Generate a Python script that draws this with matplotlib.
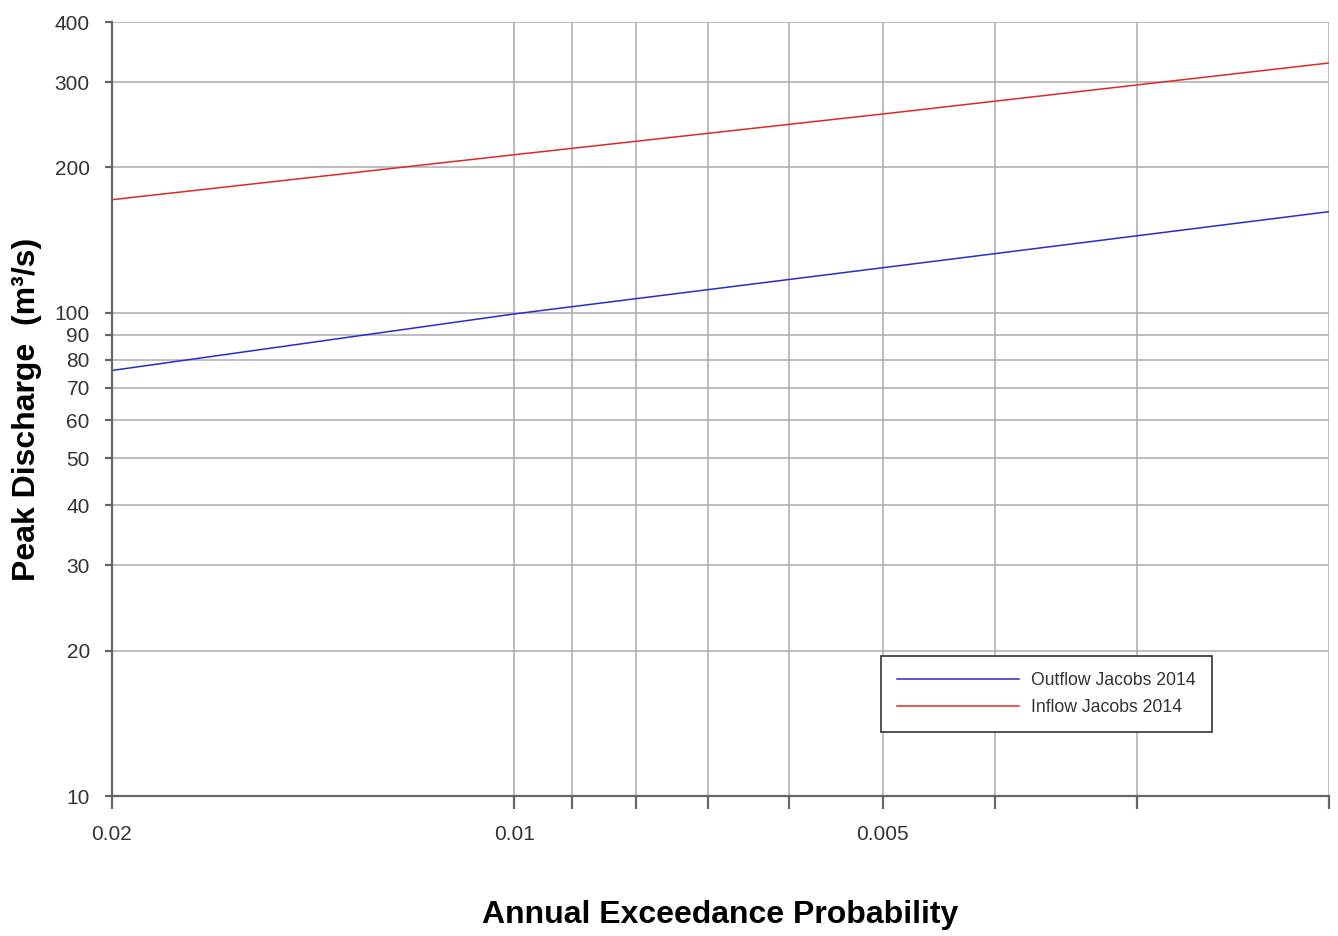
import numpy as np
import matplotlib
matplotlib.use("Agg")
import matplotlib.pyplot as plt
from matplotlib.ticker import FixedLocator, FixedFormatter, NullLocator
from statistics import NormalDist

plt.rcParams['font.family'] = ['Liberation Sans', 'DejaVu Sans']

# ---- data ----
aep = [0.02, 0.01, 0.005, 0.002]
outflow = [76.0, 99.5, 124.0, 162.0]
inflow = [171.5, 212.5, 258.0, 329.0]
series_labels = ["Outflow Jacobs 2014", "Inflow Jacobs 2014"]

x_ticks = [0.02, 0.01, 0.009, 0.008, 0.007, 0.006, 0.005, 0.004, 0.003, 0.002]
x_tick_labels = ["0.02", "0.01", "", "", "", "", "0.005", "", "", ""]
y_ticks = [10, 20, 30, 40, 50, 60, 70, 80, 90, 100, 200, 300, 400]
y_tick_labels = [str(v) for v in y_ticks]

# ---- normal probability scale (increasing in p; axis inverted later) ----
_nd = NormalDist()

def _fwd_scalar(p):
    p = min(max(float(p), 1e-9), 1 - 1e-9)
    return _nd.inv_cdf(p)

def _inv_scalar(z):
    return _nd.cdf(float(z))

_fwd = np.vectorize(_fwd_scalar, otypes=[float])
_inv = np.vectorize(_inv_scalar, otypes=[float])

def forward(p):
    return _fwd(np.asarray(p, dtype=float))

def inverse(z):
    return _inv(np.asarray(z, dtype=float))

fig = plt.figure(figsize=(13.38, 9.36), dpi=100)
ax = fig.add_axes([112/1338, 1 - 796/936, (1329-112)/1338, (796-22)/936])

ax.set_xscale('function', functions=(forward, inverse))
ax.set_yscale('log')

ax.plot(aep, outflow, color='#2a2ad0', lw=1.1, label=series_labels[0])
ax.plot(aep, inflow, color='#e02828', lw=1.1, label=series_labels[1])

ax.set_xlim(0.002, 0.02)
ax.invert_xaxis()
ax.set_ylim(10, 400)

ax.xaxis.set_major_locator(FixedLocator(x_ticks))
ax.xaxis.set_major_formatter(FixedFormatter(x_tick_labels))
ax.xaxis.set_minor_locator(NullLocator())
ax.yaxis.set_major_locator(FixedLocator(y_ticks))
ax.yaxis.set_major_formatter(FixedFormatter(y_tick_labels))
ax.yaxis.set_minor_locator(NullLocator())

ax.grid(True, which='major', color='#ababab', lw=1.1)
ax.set_axisbelow(True)

for s in ['top', 'right']:
    ax.spines[s].set_visible(False)
for s in ['left', 'bottom']:
    ax.spines[s].set_color('#666666')
    ax.spines[s].set_linewidth(1.6)

ax.tick_params(axis='x', direction='out', length=9, width=1.6, color='#666666',
               pad=12, labelsize=15, labelcolor='#333333')
ax.tick_params(axis='y', direction='out', length=5, width=1.6, color='#666666',
               pad=11, labelsize=15, labelcolor='#333333')

ax.set_xlabel("Annual Exceedance Probability", fontsize=23, fontweight='bold')
ax.xaxis.set_label_coords(0.5, (796 - 915) / 774, transform=ax.transAxes)
ax.xaxis.label.set_va('center')
ax.set_ylabel("Peak Discharge  (m³/s)", fontsize=23, fontweight='bold')
ax.yaxis.set_label_coords((27 - 112) / 1217, 0.5, transform=ax.transAxes)
ax.yaxis.label.set_va('center')

leg = ax.legend(loc='upper left', bbox_to_anchor=((881 - 112) / 1217, (796 - 656) / 774),
                fontsize=12.7, handlelength=6.9, handletextpad=0.72,
                labelspacing=0.57, borderpad=0.9, borderaxespad=0.0,
                fancybox=False, framealpha=1, edgecolor='#333333')
leg.get_frame().set_linewidth(1.2)
for t in leg.get_texts():
    t.set_color('#333333')

fig.savefig("out.png", dpi=100)
